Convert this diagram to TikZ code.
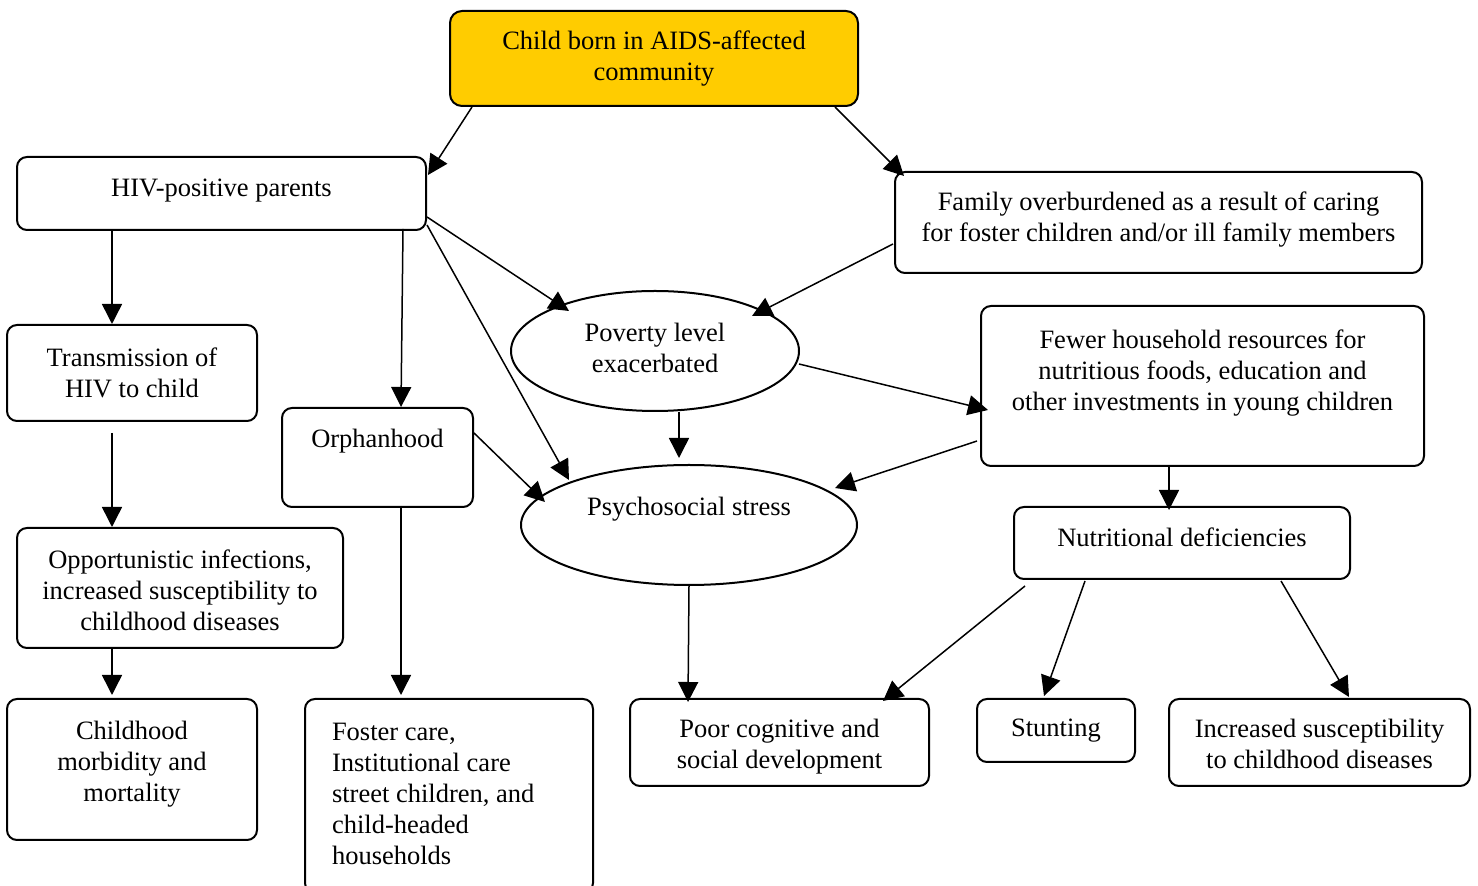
\documentclass[tikz,border=0pt]{standalone}
\usepackage{fontspec}
\setmainfont{Liberation Serif}
\usetikzlibrary{arrows.meta,shapes.geometric}
\definecolor{topyellow}{HTML}{FFCC00}
\newcommand\liftup[2]{\raisebox{#1}[\height][\depth]{#2}}
\newcommand\lines[1]{\begin{tabular}{@{}c@{}}#1\end{tabular}}
\newcommand\leftlines[2]{\makebox[#1][l]{\begin{tabular}{@{}l@{}}#2\end{tabular}}}
\tikzset{
  box/.style={draw, line width=1pt, rounded corners=5pt, inner sep=0pt, align=center},
  oval/.style={draw, ellipse, line width=1pt, inner sep=0pt, align=center},
  arr/.style={-{Triangle[length=10pt,width=10pt]}, line width=0.75pt},
}
\begin{document}
\begin{tikzpicture}[x=0.5pt,y=-0.5pt,font=\fontsize{13.25}{15.5}\selectfont]
\useasboundingbox (0,0) rectangle (1478,886);
% nodes
\node[box, fill=topyellow, rounded corners=6pt, minimum width=204pt, minimum height=47.5pt] (top) at (654,58.5)
  {Child born in AIDS-affected\\community};
\node[box, minimum width=204.5pt, minimum height=36.5pt] (hiv) at (221.5,193.5)
  {\liftup{1.5pt}{HIV-positive parents}};
\node[box, minimum width=263.5pt, minimum height=50.5pt] (fam) at (1158.5,222.5)
  {\liftup{1.5pt}{\lines{Family overburdened as a result of caring\\for foster children and/or ill family members}}};
\node[oval, minimum width=144pt, minimum height=60pt] (pov) at (655,351)
  {\lines{Poverty level\\exacerbated}};
\node[box, minimum width=221.5pt, minimum height=80pt] (fewer) at (1202.5,386)
  {\liftup{6.5pt}{\lines{Fewer household resources for\\nutritious foods, education and\\other investments in young children}}};
\node[box, minimum width=125pt, minimum height=48pt] (trans) at (132,373)
  {Transmission of\\HIV to child};
\node[box, minimum width=95.5pt, minimum height=49.5pt] (orph) at (377.5,457.5)
  {\liftup{8.25pt}{Orphanhood}};
\node[oval, minimum width=168pt, minimum height=60pt] (psy) at (689,525)
  {\liftup{8pt}{Psychosocial stress}};
\node[box, minimum width=168pt, minimum height=36pt] (nut) at (1182,543)
  {\liftup{3pt}{Nutritional deficiencies}};
\node[box, minimum width=163pt, minimum height=60pt] (opp) at (180,588)
  {\liftup{-2.75pt}{\lines{Opportunistic infections,\\increased susceptibility to\\childhood diseases}}};
\node[box, minimum width=125pt, minimum height=70.5pt] (child) at (132,769.5)
  {\liftup{2.75pt}{\lines{Childhood\\morbidity and\\mortality}}};
\node[box, minimum width=144pt, minimum height=97pt] (foster) at (449,796)
  {\leftlines{117pt}{Foster care,\\Institutional care\\street children, and\\child-headed\\households}};
\node[box, minimum width=149.5pt, minimum height=43.5pt] (poor) at (779.5,742.5)
  {\liftup{-2pt}{\lines{Poor cognitive and\\social development}}};
\node[box, minimum width=79pt, minimum height=31.5pt] (stunt) at (1056,730.5)
  {Stunting};
\node[box, minimum width=150.5pt, minimum height=43.5pt] (inc) at (1319.5,742.5)
  {\liftup{-2pt}{\lines{Increased susceptibility\\to childhood diseases}}};
% connectors
\draw[arr] ([shift={(23,0)}]top.south west) -- ([shift={(1,19)}]hiv.north east);
\draw[arr] ([shift={(-24,0)}]top.south east) -- ([shift={(10,5)}]fam.north west);
\draw[arr] ([shift={(96,0)}]hiv.south west) -- ([shift={(106,0)}]trans.north west);
\draw[arr] ([shift={(-24,-2)}]hiv.south east) -- ([shift={(120,0)}]orph.north west);
\draw[arr] ([shift={(0,23.5)}]hiv.east) -- ([shift={(-86,-40)}]pov.center);
\draw[arr] ([shift={(0,31.5)}]hiv.east) -- ([shift={(-120,-45)}]psy.center);
\draw[arr] ([shift={(-1,21.5)}]fam.west) -- ([shift={(97,-35)}]pov.center);
\draw[arr] ([shift={(144,13)}]pov.center) -- ([shift={(8,24)}]fewer.west);
\draw[arr] ([shift={(24,0)}]pov.south) -- ([shift={(-10,-6)}]psy.north);
\draw[arr] ([shift={(-3,55)}]fewer.west) -- ([shift={(146,-37)}]psy.center);
\draw[arr] ([shift={(0,-24.5)}]orph.east) -- ([shift={(-144,-23)}]psy.center);
\draw[arr] ([shift={(106,11)}]trans.south west) -- ([shift={(96,0)}]opp.north west);
\draw[arr] ([shift={(96,0)}]opp.south west) -- ([shift={(106,-3)}]child.north west);
\draw[arr] ([shift={(120,-2)}]orph.south west) -- ([shift={(97,-3)}]foster.north west);
\draw[arr] ([shift={(-33.5,0)}]fewer.south) -- ([shift={(-13,4)}]nut.north);
\draw[arr] (psy.south) -- ([shift={(59,4)}]poor.north west);
\draw[arr] ([shift={(12,6)}]nut.south west) -- ([shift={(-47,3)}]poor.north east);
\draw[arr] ([shift={(72,1)}]nut.south west) -- ([shift={(68,-2)}]stunt.north west);
\draw[arr] ([shift={(-70,1)}]nut.south east) -- ([shift={(181,-1)}]inc.north west);
\end{tikzpicture}
\end{document}
